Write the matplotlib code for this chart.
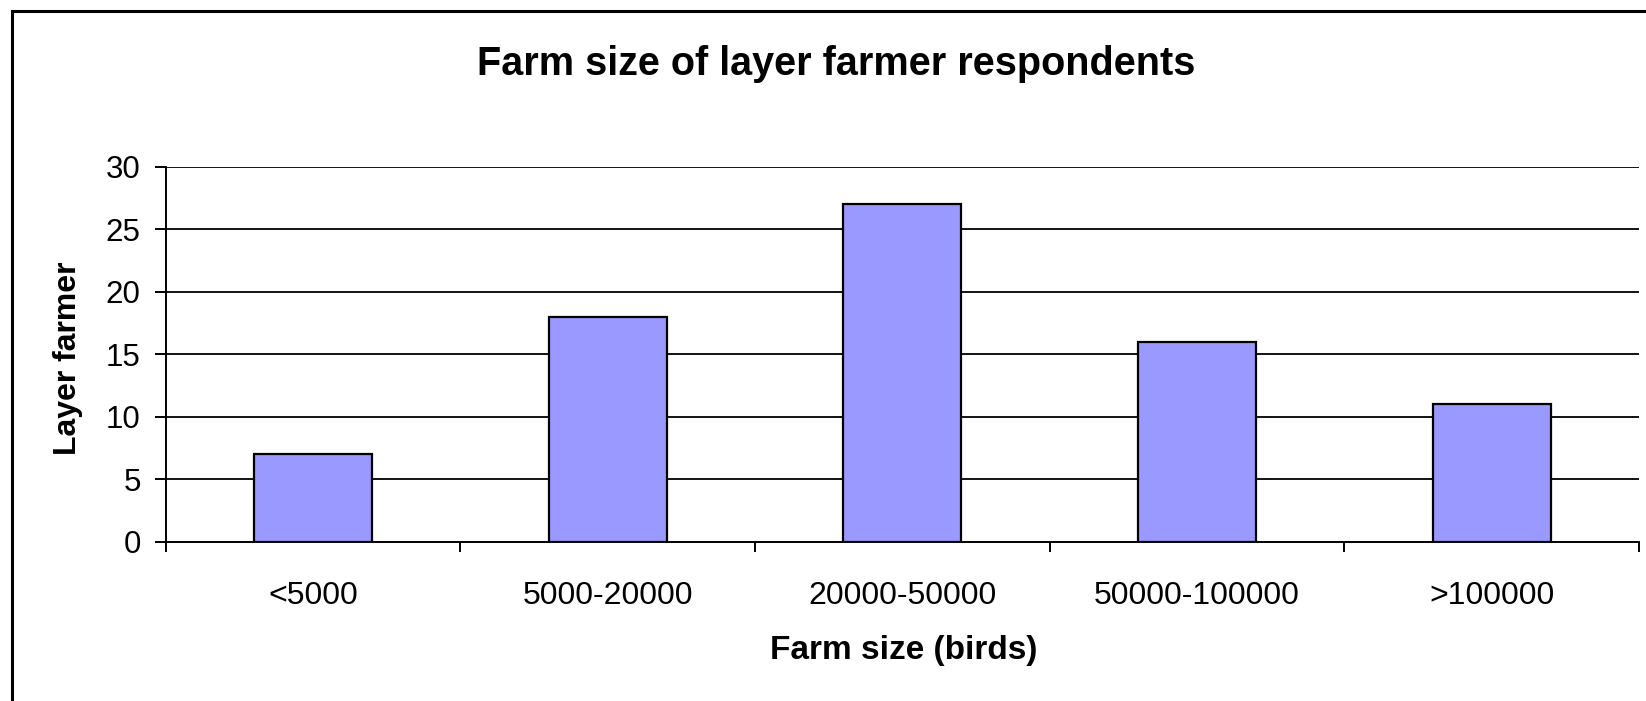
import matplotlib
matplotlib.use("Agg")
import matplotlib.pyplot as plt
from matplotlib.patches import Rectangle
import numpy as np

categories = ["<5000", "5000-20000", "20000-50000", "50000-100000", ">100000"]
farmers = [7, 18, 27, 16, 11]
y_ticks = [0, 5, 10, 15, 20, 25, 30]

plt.rcParams["font.family"] = ["Liberation Sans", "DejaVu Sans"]

W, H = 1646, 701
fig = plt.figure(figsize=(W / 100, H / 100), dpi=100)
fig.patch.set_facecolor("white")

# chart-area frame (right and bottom edges fall outside the canvas)
fig.patches.append(Rectangle((12 / W, -0.1), 1.2, (H - 11) / H + 0.1,
                             transform=fig.transFigure, fill=False,
                             edgecolor="black", linewidth=2.2, zorder=0))

left, right = 165.7 / W, 1639 / W
bottom, top = 1 - 541.7 / H, 1 - 166.7 / H
ax = fig.add_axes([left, bottom, right - left, top - bottom])

x = np.arange(len(categories))
ax.bar(x, farmers, width=0.4, color="#9999FF", edgecolor="black",
       linewidth=1.6, zorder=3)

ax.set_xlim(-0.5, len(categories) - 0.5)
ax.set_ylim(0, 30)
ax.set_yticks(y_ticks)
ax.set_yticklabels([str(v) for v in y_ticks], fontsize=22.5)
ax.set_xticks(x)
ax.set_xticklabels(categories, fontsize=23)
ax.set_xticks(np.arange(-0.5, len(categories), 1.0), minor=True)
ax.tick_params(axis="x", which="major", length=0, pad=28)
ax.tick_params(axis="x", which="minor", length=7, width=1.4, direction="out")
ax.tick_params(axis="y", length=8, width=1.4, direction="out", pad=10)

for v in y_ticks[1:]:
    ax.axhline(v, color="black", linewidth=1.3, zorder=1)

for s in ["top", "right"]:
    ax.spines[s].set_visible(False)
for s in ["left", "bottom"]:
    ax.spines[s].set_linewidth(1.4)
    ax.spines[s].set_zorder(4)

fig.text(836 / W, 1 - 64 / H, "Farm size of layer farmer respondents",
         ha="center", va="center", fontsize=28.5, fontweight="bold")
fig.text(904 / W, 1 - 651 / H, "Farm size (birds)", ha="center", va="center",
         fontsize=24, fontweight="bold")
fig.text(68 / W, 1 - 358 / H, "Layer farmer", ha="center", va="center",
         rotation=90, fontsize=23, fontweight="bold")

fig.savefig("out.png", dpi=100)
